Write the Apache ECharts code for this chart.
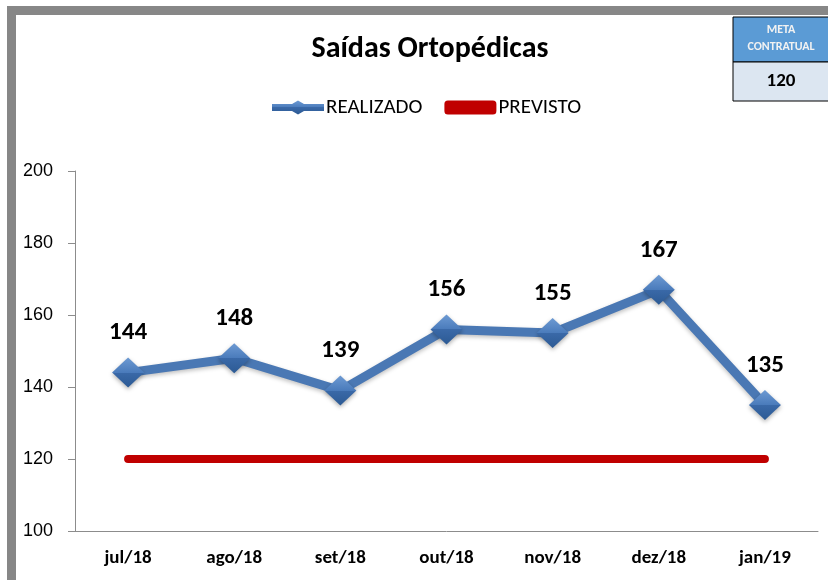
<!DOCTYPE html>
<html>
<head>
<meta charset="utf-8">
<script src="https://cdn.jsdelivr.net/npm/echarts@6/dist/echarts.min.js"></script>
</head>
<body style="margin:0;background:#fff">
<div id="main" style="width:828px;height:580px"></div>
<script>
var months = ['jul/18', 'ago/18', 'set/18', 'out/18', 'nov/18', 'dez/18', 'jan/19'];
var realizado = [144, 148, 139, 156, 155, 167, 135];
var previsto = [120, 120, 120, 120, 120, 120, 120];
var meta = 120;

var chart = echarts.init(document.getElementById('main'));
var font = 'Calibri, Carlito, "Open Sans", "DejaVu Sans", sans-serif';

var option = {
    backgroundColor: '#fff',
    animation: false,
    textStyle: { fontFamily: font },
    title: {
        text: 'Saídas Ortopédicas',
        left: 425,
        textAlign: 'center',
        top: 29,
        textStyle: { fontSize: 30, fontWeight: 'bold', color: '#000', fontFamily: font }
    },
    legend: {
        top: 92,
        left: 267,
        itemWidth: 52,
        itemHeight: 14,
        itemGap: 22,
        textStyle: { fontSize: 21, color: '#000', fontFamily: font, padding: [0, 0, 0, -3] },
        data: [
            { name: 'REALIZADO', icon: 'path://M0,3.5 L20,3.5 L26,0 L32,3.5 L52,3.5 L52,10.5 L32,10.5 L26,14 L20,10.5 L0,10.5 Z' },
            { name: 'PREVISTO', icon: 'roundRect' }
        ]
    },
    grid: { left: 75, right: 10, top: 171, bottom: 49 },
    xAxis: {
        type: 'category',
        data: months,
        axisLine: { lineStyle: { color: '#8c8c8c' } },
        axisTick: { show: false },
        axisLabel: { fontSize: 19, fontWeight: 'bold', color: '#000', margin: 18, fontFamily: font }
    },
    yAxis: {
        type: 'value',
        min: 100,
        max: 200,
        interval: 20,
        splitLine: { show: false },
        axisLine: { show: true, lineStyle: { color: '#8c8c8c' } },
        axisTick: { show: true, inside: false, length: 7, lineStyle: { color: '#8c8c8c' } },
        axisLabel: { fontSize: 18, color: '#000', margin: 22, fontFamily: 'Liberation Sans, Arial, sans-serif' }
    },
    series: [
        {
            name: 'PREVISTO',
            type: 'line',
            data: previsto,
            symbol: 'none',
            lineStyle: { color: '#c00000', width: 8, cap: 'round' },
            itemStyle: { color: '#c00000' },
            z: 2
        },
        {
            name: 'REALIZADO',
            type: 'line',
            data: realizado,
            symbol: 'diamond',
            symbolSize: [32, 30],
            lineStyle: {
                color: '#4a78b4', width: 9,
                shadowColor: 'rgba(0,0,0,0.25)', shadowBlur: 4, shadowOffsetY: 2
            },
            itemStyle: {
                color: {
                    type: 'linear', x: 0, y: 0, x2: 0, y2: 1,
                    colorStops: [{ offset: 0, color: '#6d9ad3' }, { offset: 0.5, color: '#4a7bbb' }, { offset: 0.5, color: '#3a69a8' }, { offset: 1, color: '#2c5a94' }]
                },
                borderWidth: 0,
                shadowColor: 'rgba(0,0,0,0.3)', shadowBlur: 4, shadowOffsetY: 2
            },
            label: {
                show: true,
                position: 'top',
                distance: 12,
                fontSize: 25,
                fontWeight: 'bold',
                color: '#000',
                fontFamily: font
            },
            z: 3
        }
    ],
    graphic: [
        { type: 'rect', shape: { x: 7, y: 6, width: 830, height: 9 }, style: { fill: '#878787' }, silent: true },
        { type: 'rect', shape: { x: 7, y: 6, width: 9, height: 580 }, style: { fill: '#878787' }, silent: true },
        { type: 'rect', shape: { x: 733, y: 17, width: 100, height: 45 }, style: { fill: '#5b9bd5', stroke: '#000', lineWidth: 1 }, silent: true },
        { type: 'rect', shape: { x: 733, y: 62, width: 100, height: 39 }, style: { fill: '#dce6f1', stroke: '#000', lineWidth: 1 }, silent: true },
        { type: 'text', x: 781, y: 30, style: { text: 'META', fill: '#f2f2f2', font: 'bold 12px ' + font, align: 'center', verticalAlign: 'middle' }, silent: true },
        { type: 'text', x: 781, y: 47, style: { text: 'CONTRATUAL', fill: '#f2f2f2', font: 'bold 12px ' + font, align: 'center', verticalAlign: 'middle' }, silent: true },
        { type: 'text', x: 781, y: 81, style: { text: String(meta), fill: '#000', font: 'bold 19px ' + font, align: 'center', verticalAlign: 'middle' }, silent: true }
    ]
};
chart.setOption(option);
</script>
</body>
</html>
